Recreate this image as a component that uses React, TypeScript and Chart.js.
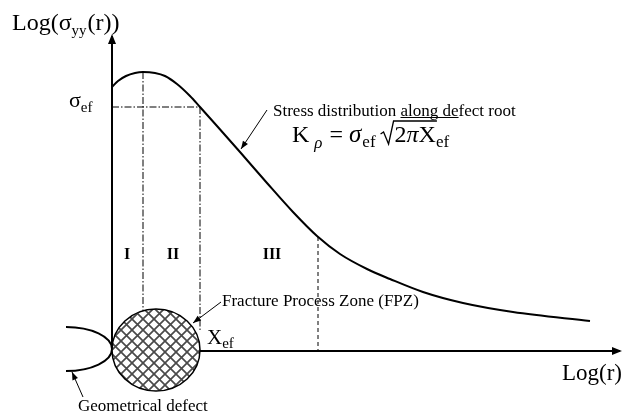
import { useEffect, useRef } from "react";
import { Chart, registerables } from "chart.js";
Chart.register(...registerables);

// Stress distribution curve (schematic, log-log space; y grows downward)
const curveX = [112, 118, 126, 135, 143, 155, 165, 177, 190, 200, 217, 240, 267, 293, 317, 340, 367, 390, 423, 463, 513, 590];
const curveY = [87, 81, 76, 73, 72, 73, 76, 84, 96, 107, 126, 152, 183, 212, 236, 254, 269, 279, 292, 303, 312, 321];

// Guide lines [x1, y1, x2, y2]
const dashDotLines = [
  [143, 72, 143, 311],
  [112, 107, 200, 107],
  [200, 107, 200, 330],
];
const dashedLines = [[318, 237, 318, 351]];

// Axes
const yAxisLine = [112, 348, 112, 36];
const xAxisLine = [200, 351, 620, 351];

// FPZ circle and defect
const fpzCircle = { cx: 156, cy: 350, rx: 44, ry: 41 };
const defect = { cx: 66, cy: 349, rx: 46, ry: 22 };

// Leader arrows [x1, y1, x2, y2] (head at x2, y2)
const leaderArrows = [
  [267, 110, 241, 149],
  [221, 302, 193, 323],
  [83, 397, 72, 372],
];

// Region labels
const regionLabels = ["I", "II", "III"];
const regionX = [127, 173, 272];
const regionY = 259;

const SERIF = '"Liberation Serif", "Times New Roman", serif';

type Part = { t: string; size: number; dy?: number; italic?: boolean; bold?: boolean; gap?: number };

export default function App() {
  const ref = useRef<HTMLCanvasElement | null>(null);
  useEffect(() => {
    if (!ref.current) return;
    const px = (c: any, x: number) => c.scales.x.getPixelForValue(x);
    const py = (c: any, y: number) => c.scales.y.getPixelForValue(y);

    const arrowHead = (ctx: CanvasRenderingContext2D, x1: number, y1: number, x2: number, y2: number, len = 9, w = 3.5) => {
      const a = Math.atan2(y2 - y1, x2 - x1);
      ctx.beginPath();
      ctx.moveTo(x2, y2);
      ctx.lineTo(x2 - len * Math.cos(a) + w * Math.sin(a), y2 - len * Math.sin(a) - w * Math.cos(a));
      ctx.lineTo(x2 - len * Math.cos(a) - w * Math.sin(a), y2 - len * Math.sin(a) + w * Math.cos(a));
      ctx.closePath();
      ctx.fill();
    };

    const rich = (ctx: CanvasRenderingContext2D, x: number, y: number, parts: Part[]) => {
      let cx = x;
      for (const p of parts) {
        ctx.font = `${p.italic ? "italic " : ""}${p.bold ? "bold " : ""}${p.size}px ${SERIF}`;
        ctx.fillText(p.t, cx, y + (p.dy || 0));
        cx += ctx.measureText(p.t).width + (p.gap || 0);
      }
      return cx;
    };

    const deco = {
      id: "deco",
      afterDatasetsDraw(c: any) {
        const ctx: CanvasRenderingContext2D = c.ctx;
        ctx.save();
        ctx.fillStyle = "#000";
        ctx.strokeStyle = "#000";

        // axes arrows
        arrowHead(ctx, px(c, yAxisLine[0]), py(c, yAxisLine[1]), px(c, yAxisLine[2]), py(c, yAxisLine[3]) - 2, 10, 4);
        arrowHead(ctx, px(c, xAxisLine[0]), py(c, xAxisLine[1]), px(c, xAxisLine[2]) + 2, py(c, xAxisLine[3]), 10, 4);

        // defect half-ellipse
        ctx.lineWidth = 2;
        ctx.beginPath();
        ctx.ellipse(px(c, defect.cx), py(c, defect.cy), defect.rx, defect.ry, 0, -Math.PI / 2, Math.PI / 2);
        ctx.stroke();

        // FPZ hatched circle
        const tile = document.createElement("canvas");
        tile.width = 11;
        tile.height = 11;
        const t = tile.getContext("2d")!;
        t.fillStyle = "#fff";
        t.fillRect(0, 0, 11, 11);
        t.strokeStyle = "#4a4a4a";
        t.lineWidth = 1.7;
        t.beginPath();
        t.moveTo(-1, -1); t.lineTo(12, 12);
        t.moveTo(12, -1); t.lineTo(-1, 12);
        t.stroke();
        const pat = ctx.createPattern(tile, "repeat")!;
        ctx.beginPath();
        ctx.ellipse(px(c, fpzCircle.cx), py(c, fpzCircle.cy), fpzCircle.rx, fpzCircle.ry, 0, 0, Math.PI * 2);
        ctx.fillStyle = pat;
        ctx.fill();
        ctx.lineWidth = 1.5;
        ctx.strokeStyle = "#000";
        ctx.stroke();
        ctx.fillStyle = "#000";

        // leader arrows
        ctx.lineWidth = 1;
        for (const [x1, y1, x2, y2] of leaderArrows) {
          const a1 = px(c, x1), b1 = py(c, y1), a2 = px(c, x2), b2 = py(c, y2);
          ctx.beginPath();
          ctx.moveTo(a1, b1);
          ctx.lineTo(a2, b2);
          ctx.stroke();
          arrowHead(ctx, a1, b1, a2, b2, 8, 3);
        }

        // texts
        ctx.textBaseline = "alphabetic";
        ctx.textAlign = "left";
        rich(ctx, 12, 30, [
          { t: "Log(σ", size: 24 },
          { t: "yy", size: 15, dy: 5, gap: 1 },
          { t: "(r))", size: 24 },
        ]);
        rich(ctx, 69, 107, [
          { t: "σ", size: 22 },
          { t: "ef", size: 15, dy: 5 },
        ]);
        ctx.font = `17px ${SERIF}`;
        const sx = px(c, 273), sy = py(c, 116);
        ctx.fillText("Stress distribution along defect root", sx, sy);
        const u0 = sx + ctx.measureText("Stress distribution ").width;
        const u1 = sx + ctx.measureText("Stress distribution along de").width;
        ctx.lineWidth = 1;
        ctx.beginPath();
        ctx.moveTo(u0, sy + 1.5);
        ctx.lineTo(u1, sy + 1.5);
        ctx.stroke();

        // formula K_rho = sigma_ef sqrt(2 pi X_ef)
        const fx = rich(ctx, px(c, 292), py(c, 142), [
          { t: "K", size: 24, gap: 5 },
          { t: "ρ", size: 17, dy: 6, italic: true, gap: 1 },
          { t: " = ", size: 24 },
          { t: "σ", size: 25, italic: true, gap: 1 },
          { t: "ef", size: 17, dy: 5, gap: 5 },
        ]);
        const fy = py(c, 142);
        ctx.lineWidth = 1.3;
        ctx.beginPath();
        ctx.moveTo(fx, fy - 8);
        ctx.lineTo(fx + 3, fy - 10);
        ctx.lineTo(fx + 8, fy + 2);
        ctx.lineTo(fx + 13, fy - 21);
        const endx = rich(ctx, fx + 14, fy, [
          { t: "2", size: 24 },
          { t: "π", size: 24, italic: true },
          { t: "X", size: 24 },
        ]);
        ctx.lineTo(endx + 1, fy - 21);
        ctx.stroke();
        rich(ctx, endx, fy, [{ t: "ef", size: 17, dy: 5 }]);

        ctx.font = `bold 16px ${SERIF}`;
        ctx.textAlign = "center";
        regionLabels.forEach((l, i) => ctx.fillText(l, px(c, regionX[i]), py(c, regionY)));
        ctx.textAlign = "left";

        ctx.font = `17px ${SERIF}`;
        ctx.fillText("Fracture Process Zone (FPZ)", px(c, 222), py(c, 306));
        ctx.fillText("Geometrical defect", px(c, 78), py(c, 411));
        rich(ctx, px(c, 207), py(c, 344), [
          { t: "X", size: 21 },
          { t: "ef", size: 15, dy: 4 },
        ]);
        ctx.font = `23px ${SERIF}`;
        ctx.fillText("Log(r)", px(c, 562), py(c, 380));
        ctx.restore();
      },
    };

    const seg = (l: number[]) => [{ x: l[0], y: l[1] }, { x: l[2], y: l[3] }];
    const datasets: any[] = [];
    dashDotLines.forEach((l) =>
      datasets.push({ data: seg(l), borderColor: "#000", borderWidth: 1, borderDash: [7, 2, 1.5, 2], pointRadius: 0, showLine: true, fill: false })
    );
    dashedLines.forEach((l) =>
      datasets.push({ data: seg(l), borderColor: "#000", borderWidth: 1, borderDash: [4, 3], pointRadius: 0, showLine: true, fill: false })
    );
    datasets.push({ data: seg(yAxisLine), borderColor: "#000", borderWidth: 2, pointRadius: 0, showLine: true });
    datasets.push({ data: seg(xAxisLine), borderColor: "#000", borderWidth: 2, pointRadius: 0, showLine: true });
    datasets.push({
      data: curveX.map((x, i) => ({ x, y: curveY[i] })),
      borderColor: "#000",
      borderWidth: 2,
      pointRadius: 0,
      showLine: true,
      cubicInterpolationMode: "monotone",
    });

    const chart = new Chart(ref.current, {
      type: "scatter",
      data: { datasets },
      options: {
        animation: false,
        responsive: false,
        devicePixelRatio: 1,
        layout: { padding: 0 },
        plugins: { legend: { display: false }, tooltip: { enabled: false } },
        datasets: { scatter: { clip: false } } as any,
        scales: {
          x: { type: "linear", min: 0, max: 631, display: false },
          y: { type: "linear", min: 0, max: 418, reverse: true, display: false },
        },
      },
      plugins: [deco],
    });
    return () => chart.destroy();
  }, []);

  return (
    <div style={{ position: "fixed", left: 0, top: 0, width: 631, height: 418, background: "#fff" }}>
      <canvas ref={ref} width={631} height={418} />
    </div>
  );
}
